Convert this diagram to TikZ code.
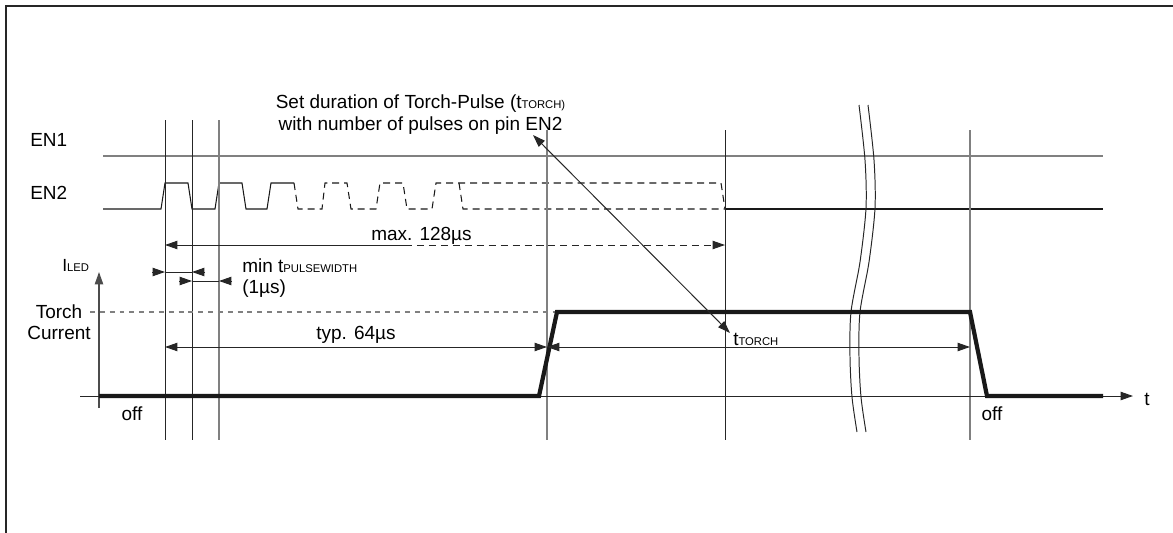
\documentclass[tikz,border=0pt]{standalone}
\usepackage{fontspec}
\setmainfont{Liberation Sans}
\usetikzlibrary{arrows.meta}
\newcommand{\smallidx}[1]{{\fontsize{8}{9}\selectfont #1}}

\begin{document}
\begin{tikzpicture}[x=0.025cm,y=-0.025cm,
            every node/.style={inner sep=0pt,font=\fontsize{13.5}{16}\selectfont},
            thinline/.style={line width=0.7pt,black!85},
            grayline/.style={line width=0.9pt,black!50},
            wave/.style={line width=0.75pt,black!90},
            dashwave/.style={wave,dash pattern=on 5pt off 3.5pt},
            tip/.style={-{Triangle[length=3.1mm,width=2.1mm]}},
            dimarrow/.style={line width=0.7pt,black!85,{Triangle[length=3.1mm,width=2.1mm]}-{Triangle[length=3.1mm,width=2.1mm]}},
            current/.style={line width=3pt,black!90,line join=miter}]
            \useasboundingbox (0,0) rectangle (1173,533);
            \draw[line width=1.5pt,black!85] (6,533) -- (6,6) -- (1173,6);

            \draw[grayline] (103,156) -- (1103,156);
            \draw[wave] (103,209) -- (161,209) -- (165,183) -- (188,183) -- (192,209) -- (215,209) -- (219,183) -- (242,183) -- (246,209) -- (267,209) -- (271,183) -- (294,183);
            \draw[dashwave] (294,183) -- (298,209) -- (322,209) -- (325,183) -- (347,183) -- (351,209) -- (376,209) -- (380,183) -- (403,183) -- (407,209) -- (432,209) -- (436,183) -- (721,183) -- (725,209);
            \draw[dashwave] (459,183) -- (463,209) -- (725,209);
            \draw[wave] (725,209) -- (1103,209);

            \foreach \x in {165,192}
                \draw[thinline] (\x,120) -- (\x,440);
            \draw[grayline] (219,120) -- (219,440);
            \draw[grayline] (547,130) -- (547,440);
            \draw[thinline] (725,130) -- (725,440);
            \draw[grayline] (970,130) -- (970,440);

            \draw[thinline] plot[smooth] coordinates {(859,105) (865,160) (866,208) (860,262) (851,312) (850,357) (852,397) (857,432)};
            \draw[thinline] plot[smooth] coordinates {(868,105) (874,160) (875,208) (869,262) (860,312) (859,357) (861,397) (866,432)};

            \draw[line width=0.9pt,black!70,tip] (99,408) -- (99,272);
            \draw[thinline,tip] (80,396) -- (1133,396);
            \draw[grayline,dash pattern=on 3.5pt off 3.5pt] (90,312) -- (557,312);
            \draw[current] (99,396) -- (539,396) -- (557,312) -- (970,312) -- (987,396) -- (1103,396);

            \draw[thinline,tip] (405,245) -- (165,245);
            \draw[thinline,tip,dash pattern=on 5pt off 3.5pt] (405,245) -- (725,245);
            \draw[thinline,tip] (152,272) -- (165,272);
            \draw[thinline] (165,272) -- (192,272);
            \draw[thinline,tip] (205,272) -- (192,272);
            \draw[thinline,tip] (179,281) -- (192,281);
            \draw[thinline] (192,281) -- (219,281);
            \draw[thinline,tip] (232,281) -- (219,281);
            \draw[dimarrow] (165,347) -- (547,347);
            \draw[dimarrow] (547,347) -- (970,347);

            \node[anchor=base] (note1) at (420.5,108) {Set duration of Torch-Pulse (t\smallidx{TORCH)}};
            \node[anchor=base] (note2) at (420.5,130) {with number of pulses on pin EN2};
            \node[anchor=base west] (en1) at (30,146) {EN1};
            \node[anchor=base west] (en2) at (30,199) {EN2};
            \node[anchor=base] (maxlbl) at (421.5,240) {max. 128µs};
            \node[anchor=base west] (minlbl) at (242,272) {min t\smallidx{PULSEWIDTH}};
            \node[anchor=base west] (minval) at (242,293) {(1µs)};
            \node[anchor=base west,font=\fontsize{12.5}{13}\selectfont] (iled) at (62,271) {I\smallidx{LED}};
            \node[anchor=base] (torch) at (59,318) {Torch};
            \node[anchor=base] (torchcur) at (59,339) {Current};
            \node[anchor=base] (typlbl) at (356,339) {typ. 64µs};
            \node[anchor=base west] (ttorch) at (733,345) {t\smallidx{TORCH}};
            \node[anchor=base] (offa) at (132,420) {off};
            \node[anchor=base] (offb) at (992,420) {off};
            \node[anchor=base] (tlabel) at (1147,405) {t};

            \coordinate (notetip) at (533,135);
            \coordinate (ttorchtip) at (730,333);
            \draw[dimarrow] (notetip) -- (ttorchtip);
        \end{tikzpicture}
\end{document}
